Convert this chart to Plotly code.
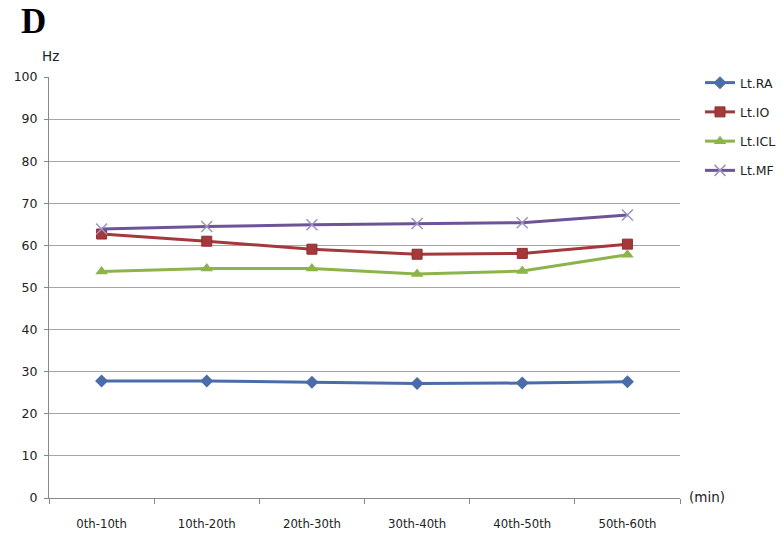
import plotly.graph_objects as go

categories = ["0th-10th", "10th-20th", "20th-30th", "30th-40th", "40th-50th", "50th-60th"]
lt_ra = [27.8, 27.8, 27.5, 27.2, 27.3, 27.6]
lt_io = [62.7, 61.0, 59.1, 57.9, 58.1, 60.3]
lt_icl = [53.8, 54.5, 54.5, 53.2, 53.9, 57.8]
lt_mf = [63.9, 64.5, 64.9, 65.2, 65.4, 67.2]
y_ticks = [0, 10, 20, 30, 40, 50, 60, 70, 80, 90, 100]

W, H = 783, 539
l, r, t, b = 49, 103, 77, 41
pw, ph = W - l - r, H - t - b

fig = go.Figure()
series = [
    ("Lt.RA", lt_ra, "#4A6CA8", dict(symbol="diamond", size=10, color="#4A6CA8")),
    ("Lt.IO", lt_io, "#A3393B", dict(symbol="square", size=10, color="#A3393B", line=dict(color="#8E2E30", width=1))),
    ("Lt.ICL", lt_icl, "#8DB44A", dict(symbol="triangle-up", size=11, color="#8DB44A")),
    ("Lt.MF", lt_mf, "#6E5497", dict(symbol="x-thin", size=11, color="#9C92C4", line=dict(color="#9C92C4", width=1.5))),
]
for i, (name, vals, col, mk) in enumerate(series):
    fig.add_trace(go.Scatter(
        x=categories, y=vals, name=name, mode="lines+markers",
        line=dict(color=col, width=3), marker=mk, legendgroup=f"g{i}",
    ))


def px(x, y):
    return (x - l) / pw, (H - b - y) / ph


ann_specs = [
    ("<b>D</b>", 19, 21, dict(family="Liberation Serif", size=35, color="black")),
    ("Hz", 40, 56, dict(family="DejaVu Sans", size=13.5, color="#222222")),
    ("(min)", 687, 497, dict(family="DejaVu Sans", size=13.5, color="#222222")),
]
annotations = []
for text, x, y, f in ann_specs:
    ax, ay = px(x, y)
    annotations.append(dict(text=text, x=ax, y=ay, xref="paper", yref="paper",
                            showarrow=False, xanchor="left", yanchor="middle", font=f))

fig.update_layout(
    width=W, height=H, autosize=False,
    margin=dict(l=l, r=r, t=t, b=b, autoexpand=False),
    paper_bgcolor="white", plot_bgcolor="white",
    font=dict(family="DejaVu Sans", size=11, color="#222222"),
    legend=dict(xref="container", yref="container",
                x=700 / W, y=1 - 68 / H, xanchor="left", yanchor="top",
                font=dict(family="DejaVu Sans", size=12.5, color="#222222"),
                tracegroupgap=10, itemwidth=30),
    xaxis=dict(type="category", range=[-0.5, 5.5], tickson="boundaries",
               ticks="outside", ticklen=5, tickcolor="#888888",
               showline=True, linecolor="#888888", linewidth=1,
               showgrid=False, ticklabelstandoff=13, automargin=False,
               tickfont=dict(family="DejaVu Sans Condensed", size=13)),
    yaxis=dict(range=[0, 100], tickvals=y_ticks, showgrid=True,
               gridcolor="#A6A6A6", gridwidth=1,
               ticks="outside", ticklen=4, tickcolor="#888888",
               showline=True, linecolor="#888888", linewidth=1,
               zeroline=False, ticklabelstandoff=4, automargin=False,
               tickfont=dict(family="DejaVu Sans", size=12.5)),
    annotations=annotations,
)
fig.write_html("out.html", config={"responsive": False, "displayModeBar": False},
               post_script="document.body.style.margin='0';document.body.style.padding='0';document.body.style.overflow='hidden';")
